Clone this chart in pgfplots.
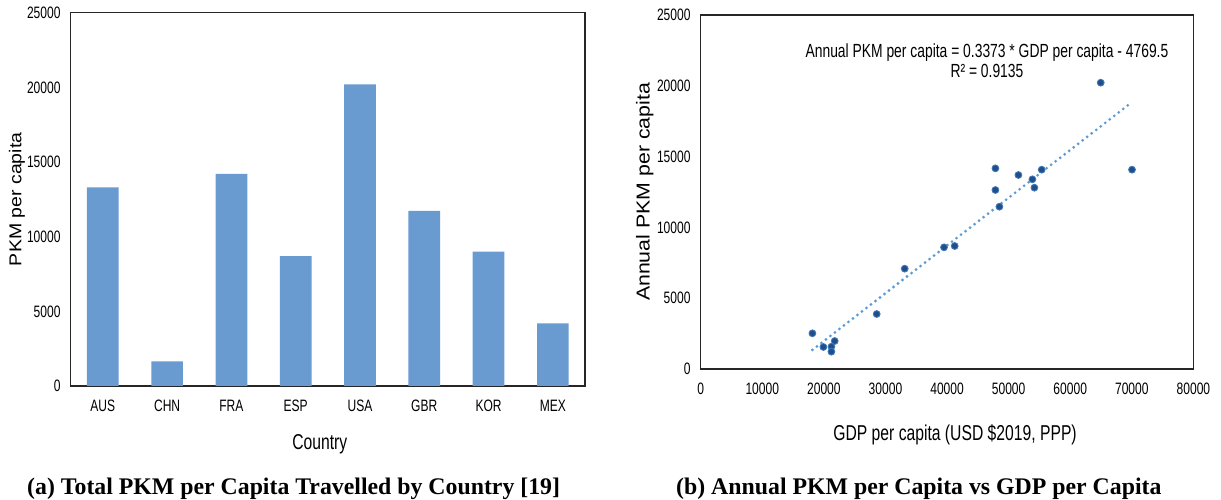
\documentclass[border=0pt]{standalone}
\usepackage{fontspec}
\usepackage{graphicx}
\usepackage{pgfplots}
\pgfplotsset{compat=1.18}
\setmainfont{Liberation Sans}
\newfontfamily\cond{Liberation Sans}[FakeStretch=0.73]
\newfontfamily\capfont{Liberation Serif}
\definecolor{barblue}{HTML}{699BD1}
\definecolor{dotblue}{HTML}{1F4E8C}
\definecolor{trend}{HTML}{5B9BD5}
\definecolor{axisgray}{HTML}{262626}
\pgfplotsset{
  myaxis/.style={
    scale only axis,
    axis line style={axisgray, line width=1.1bp},
    major tick length=0pt,
    tick label style={font=\cond\fontsize{16.5bp}{19bp}\selectfont, inner sep=0pt, text=black},
    /pgf/number format/assume math mode=true,
    /pgf/number format/1000 sep={},
    scaled ticks=false,
    xticklabel shift=14bp,
    yticklabel shift=10bp,
    xlabel style={font=\cond\fontsize{21.5bp}{25bp}\selectfont, anchor=center, inner sep=0pt},
    ylabel style={anchor=center, inner sep=0pt, font=\fontsize{20.5bp}{24bp}\selectfont},
  }
}
\begin{document}
\begin{tikzpicture}
\path[use as bounding box] (0,0) rectangle (1221bp,500bp);
% (a) bar chart
\begin{axis}[myaxis,
  at={(70.7bp,114bp)}, anchor=south west,
  width=514.3bp, height=373.3bp,
  xmin=-0.5, xmax=7.5, ymin=0, ymax=25000,
  ytick={0,5000,10000,15000,20000,25000},
  xtick={0,1,2,3,4,5,6,7},
  xticklabels={AUS,CHN,FRA,ESP,USA,GBR,KOR,MEX},
  ybar, bar width=31.7bp,
  xlabel={Country},
  xlabel style={at={(axis description cs:0.4844,-0.1572)}},
  ylabel={\scalebox{1}[0.88]{PKM per capita}},
  ylabel style={at={(axis description cs:-0.1044,0.5)}, font=\fontsize{19.5bp}{24bp}\selectfont},
]
\addplot[fill=barblue, draw=none] coordinates {
  (0,13300) (1,1650) (2,14200) (3,8700) (4,20200) (5,11720) (6,9000) (7,4200)
};
\end{axis}
% (b) scatter
\begin{axis}[myaxis,
  at={(700.7bp,131bp)}, anchor=south west,
  width=492.7bp, height=354bp,
  xmin=0, xmax=80000, ymin=0, ymax=25000,
  xtick={0,10000,20000,30000,40000,50000,60000,70000,80000},
  ytick={0,5000,10000,15000,20000,25000},
  xlabel={GDP per capita (USD \$2019, PPP)},
  xlabel style={at={(axis description cs:0.5162,-0.185)}},
  ylabel={\scalebox{1}[0.88]{Annual PKM per capita}},
  ylabel style={at={(axis description cs:-0.1137,0.5)}, font=\fontsize{21.3bp}{25bp}\selectfont},
]
\addplot[trend, line width=3.1bp, line cap=round, dash pattern=on 0bp off 5.7bp, no marks]
  coordinates {(18137,1350) (70031,18850)};
\addplot[only marks, mark=*, mark size=3.4bp,
  mark options={fill=dotblue, draw=trend!55!dotblue, line width=0.9bp}] table {
x y
18137 2521
19920 1554
21220 1577
21220 1224
21757 1977
28577 3884
33123 7085
39509 8592
41241 8686
47850 14171
47850 12641
48500 11463
51585 13700
53857 13395
54182 12805
55368 14077
64948 20220
70031 14077
};
\node[anchor=base, inner sep=0pt, font=\cond\fontsize{19bp}{22bp}\selectfont]
  at (rel axis cs:0.581,0.8805) {Annual PKM per capita = 0.3373 * GDP per capita - 4769.5};
\node[anchor=base, inner sep=0pt, font=\cond\fontsize{19bp}{22bp}\selectfont]
  at (rel axis cs:0.581,0.824) {R² = 0.9135};
\end{axis}
\node[anchor=base west, inner sep=0pt, font=\capfont\bfseries\fontsize{23.8bp}{28bp}\selectfont]
  at (27bp,5.7bp) {(a) Total PKM per Capita Travelled by Country [19]};
\node[anchor=base west, inner sep=0pt, font=\capfont\bfseries\fontsize{23.8bp}{28bp}\selectfont]
  at (676bp,5.7bp) {(b) Annual PKM per Capita vs GDP per Capita};
\end{tikzpicture}
\end{document}
